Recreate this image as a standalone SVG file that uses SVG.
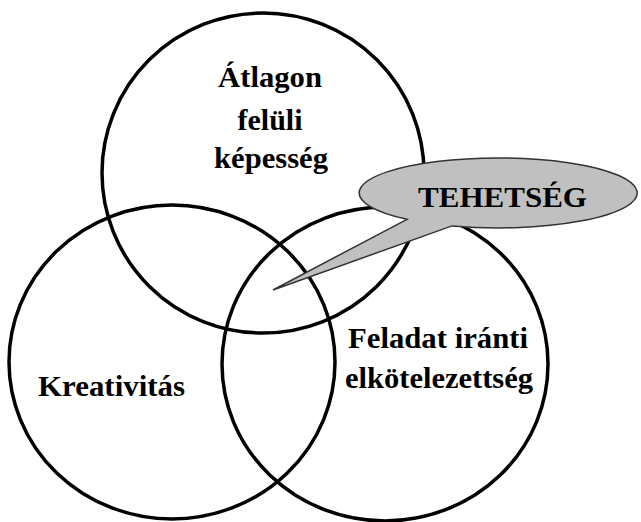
<svg xmlns="http://www.w3.org/2000/svg" width="641" height="522" viewBox="0 0 641 522">
  <style>
    .ring { fill: none; stroke: #000; stroke-width: 3.5; }
    .lbl { font-family: "Liberation Serif", "Times New Roman", serif; font-weight: bold; font-size: 30px; fill: #000; }
    .bubble { fill: #c0c0c0; stroke: #333; stroke-width: 1.5; stroke-linejoin: miter; }
  </style>
  <rect width="641" height="522" fill="#fff"/>
  <g id="circle-top">
    <ellipse class="ring" cx="263" cy="173" rx="161" ry="160"/>
    <text class="lbl" x="270" y="87" text-anchor="middle" textLength="104" lengthAdjust="spacingAndGlyphs">Átlagon</text>
    <text class="lbl" x="270" y="130" text-anchor="middle" textLength="65" lengthAdjust="spacingAndGlyphs">felüli</text>
    <text class="lbl" x="271" y="168" text-anchor="middle" textLength="114" lengthAdjust="spacingAndGlyphs">képesség</text>
  </g>
  <g id="circle-left">
    <ellipse class="ring" cx="172" cy="362" rx="163" ry="157"/>
    <text class="lbl" x="38" y="396" textLength="147" lengthAdjust="spacingAndGlyphs">Kreativitás</text>
  </g>
  <g id="circle-right">
    <ellipse class="ring" cx="385" cy="364" rx="163" ry="157"/>
    <text class="lbl" x="348" y="348" textLength="180" lengthAdjust="spacingAndGlyphs">Feladat iránti</text>
    <text class="lbl" x="345" y="388" textLength="188" lengthAdjust="spacingAndGlyphs">elkötelezettség</text>
  </g>
  <g id="callout">
    <path class="bubble" d="M407,219.3 L273,290 L452,225.9 A139,35 0 1 0 407,219.3 Z"/>
    <text class="lbl" x="418" y="207" font-size="31" textLength="169" lengthAdjust="spacingAndGlyphs">TEHETSÉG</text>
  </g>
  <g id="connectors"></g>
</svg>
